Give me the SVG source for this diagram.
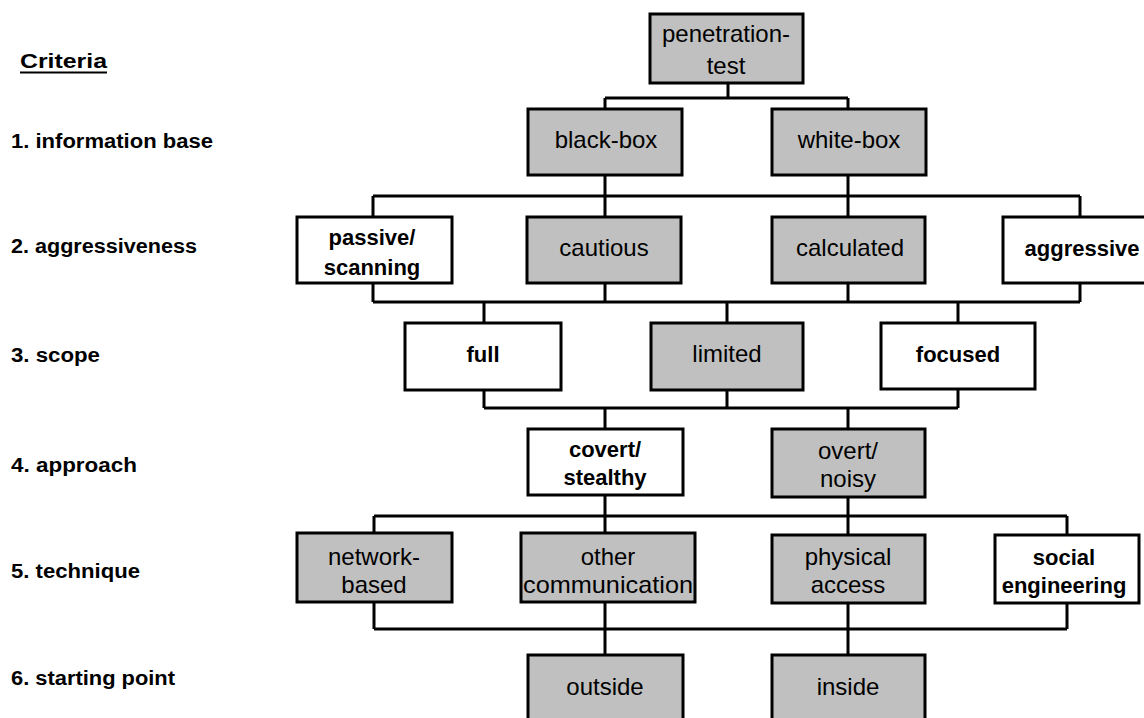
<svg xmlns="http://www.w3.org/2000/svg" width="1144" height="718" viewBox="0 0 1144 718">
<style>
.g{fill:#c0c0c0;stroke:#000;stroke-width:3}
.w{fill:#fff;stroke:#000;stroke-width:3}
.t{font-family:"Liberation Sans",Arial,sans-serif;font-size:24px;fill:#000;text-anchor:middle}
.b{font-family:"Liberation Sans",Arial,sans-serif;font-size:22px;font-weight:bold;fill:#000;text-anchor:middle}
.l{font-family:"Liberation Sans",Arial,sans-serif;font-size:20px;font-weight:bold;fill:#000}
.c{fill:none;stroke:#000;stroke-width:3}
</style>
<rect width="1144" height="718" fill="#fff"/>
<g id="labels">
<text class="l" x="20" y="68" textLength="87" lengthAdjust="spacingAndGlyphs">Criteria</text>
<line x1="20" y1="72.5" x2="107" y2="72.5" stroke="#000" stroke-width="2"/>
<text class="l" x="11" y="148" textLength="202" lengthAdjust="spacingAndGlyphs">1. information base</text>
<text class="l" x="11" y="253" textLength="186" lengthAdjust="spacingAndGlyphs">2. aggressiveness</text>
<text class="l" x="11" y="362" textLength="89" lengthAdjust="spacingAndGlyphs">3. scope</text>
<text class="l" x="11" y="472" textLength="126" lengthAdjust="spacingAndGlyphs">4. approach</text>
<text class="l" x="11" y="578" textLength="129" lengthAdjust="spacingAndGlyphs">5. technique</text>
<text class="l" x="11" y="685" textLength="164" lengthAdjust="spacingAndGlyphs">6. starting point</text>
</g>
<g id="connectors" class="c">
<path d="M728 83V98M605 98H848M605 98V109M848 98V109"/>
<path d="M605 175V196M848 175V196M373 196H1080M373 196V217M605 196V217M848 196V217M1080 196V217"/>
<path d="M373 283V302M605 283V302M848 283V302M1080 283V302M373 302H1080M484 302V323M727 302V323M958 302V323"/>
<path d="M484 390V408M727 390V408M958 390V408M484 408H958M605 408V429M848 408V429"/>
<path d="M605 496V516M848 496V516M374 516H1067M374 516V533M605 516V533M848 516V535M1067 516V535"/>
<path d="M374 602V629M605 602V629M848 603V629M1067 603V629M374 629H1067M605 629V655M848 629V655"/>
</g>
<g id="penetration-test"><rect class="g" x="650" y="14" width="153" height="69"/><text class="t" x="726" y="42">penetration-</text><text class="t" x="726" y="74">test</text></g>
<g id="black-box"><rect class="g" x="528" y="109" width="154" height="66"/><text class="t" x="606" y="148">black-box</text></g>
<g id="white-box"><rect class="g" x="772" y="109" width="154" height="66"/><text class="t" x="849" y="148">white-box</text></g>
<g id="passive-scanning"><rect class="w" x="297" y="217" width="155" height="66"/><text class="b" x="372" y="245">passive/</text><text class="b" x="372" y="275">scanning</text></g>
<g id="cautious"><rect class="g" x="527" y="217" width="154" height="66"/><text class="t" x="604" y="256">cautious</text></g>
<g id="calculated"><rect class="g" x="772" y="217" width="153" height="66"/><text class="t" x="850" y="256">calculated</text></g>
<g id="aggressive"><rect class="w" x="1003" y="217" width="160" height="66"/><text class="b" x="1082" y="256">aggressive</text></g>
<g id="full"><rect class="w" x="405" y="323" width="156" height="67"/><text class="b" x="483" y="362">full</text></g>
<g id="limited"><rect class="g" x="651" y="323" width="152" height="67"/><text class="t" x="727" y="362">limited</text></g>
<g id="focused"><rect class="w" x="881" y="323" width="154" height="66"/><text class="b" x="958" y="362">focused</text></g>
<g id="covert-stealthy"><rect class="w" x="528" y="429" width="155" height="66"/><text class="b" x="605" y="457">covert/</text><text class="b" x="605" y="485">stealthy</text></g>
<g id="overt-noisy"><rect class="g" x="772" y="429" width="153" height="68"/><text class="t" x="848" y="459">overt/</text><text class="t" x="848" y="487">noisy</text></g>
<g id="network-based"><rect class="g" x="297" y="533" width="155" height="69"/><text class="t" x="374" y="565">network-</text><text class="t" x="374" y="593">based</text></g>
<g id="other-communication"><rect class="g" x="521" y="533" width="174" height="69"/><text class="t" x="608" y="565">other</text><text class="t" x="608" y="593" textLength="170" lengthAdjust="spacingAndGlyphs">communication</text></g>
<g id="physical-access"><rect class="g" x="772" y="535" width="153" height="68"/><text class="t" x="848" y="565">physical</text><text class="t" x="848" y="593">access</text></g>
<g id="social-engineering"><rect class="w" x="995" y="535" width="144" height="68" stroke-width="4"/><text class="b" x="1064" y="565">social</text><text class="b" x="1064" y="593">engineering</text></g>
<g id="outside"><rect class="g" x="528" y="655" width="155" height="72"/><text class="t" x="605" y="695">outside</text></g>
<g id="inside"><rect class="g" x="772" y="655" width="153" height="72"/><text class="t" x="848" y="695">inside</text></g>
</svg>
